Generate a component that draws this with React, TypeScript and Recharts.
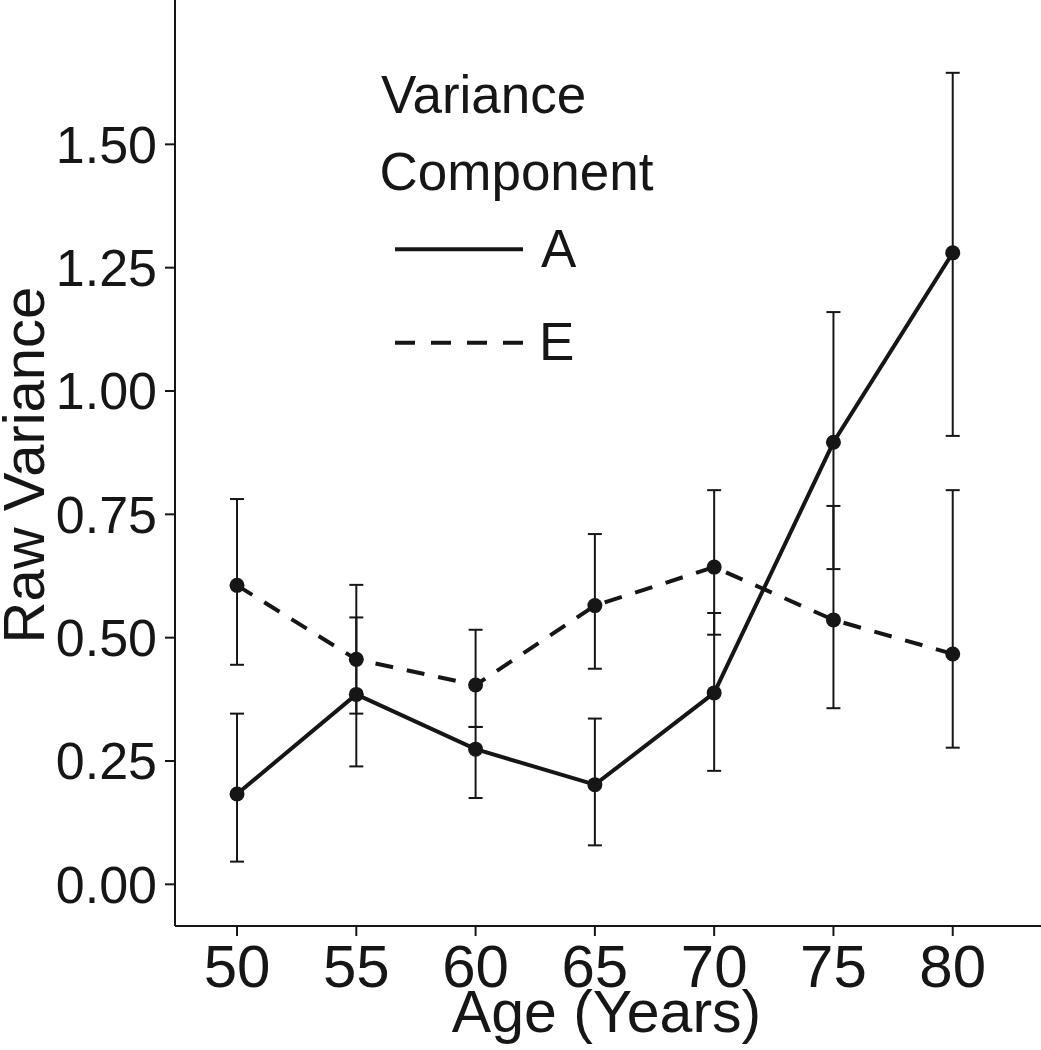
import React from 'react';
import { LineChart, Line, XAxis, YAxis, ErrorBar, Legend } from 'recharts';

const ages = [50, 55, 60, 65, 70, 75, 80];
const compA = [0.183, 0.385, 0.274, 0.202, 0.388, 0.896, 1.28];
const compALow = [0.046, 0.239, 0.175, 0.079, 0.23, 0.639, 0.909];
const compAHigh = [0.346, 0.541, 0.319, 0.336, 0.55, 1.16, 1.645];
const compE = [0.606, 0.456, 0.404, 0.565, 0.643, 0.536, 0.467];
const compELow = [0.445, 0.346, 0.319, 0.437, 0.506, 0.357, 0.277];
const compEHigh = [0.781, 0.607, 0.516, 0.71, 0.799, 0.767, 0.799];
const xTicks = [50, 55, 60, 65, 70, 75, 80];
const yTicks = [0, 0.25, 0.5, 0.75, 1.0, 1.25, 1.5];

const data = ages.map((age, i) => ({
  age,
  A: compA[i],
  E: compE[i],
  errA: [compA[i] - compALow[i], compAHigh[i] - compA[i]],
  errE: [compE[i] - compELow[i], compEHigh[i] - compE[i]],
}));

const FONT = '"Liberation Sans", Arial, Helvetica, sans-serif';
const INK = '#161616';

const LegendBox = () => (
  <svg width={320} height={330} style={{ display: 'block' }}>
    <text x={11} y={53.3} fontSize={53} fontFamily={FONT} fill={INK}>Variance</text>
    <text x={9.5} y={130} fontSize={53} fontFamily={FONT} fill={INK}>Component</text>
    <line x1={25} x2={153} y1={189.3} y2={189.3} stroke={INK} strokeWidth={4} />
    <text x={171} y={207.3} fontSize={53} fontFamily={FONT} fill={INK}>A</text>
    <line x1={25} x2={153} y1={282.7} y2={282.7} stroke={INK} strokeWidth={4} strokeDasharray="20 16" />
    <text x={169} y={300} fontSize={53} fontFamily={FONT} fill={INK}>E</text>
  </svg>
);

const XTitle = (props: any) => {
  const vb = props.viewBox || { x: 175, y: 926, width: 866, height: 124 };
  return (
    <text x={vb.x + vb.width / 2 - 1.5} y={vb.y + 105.7} textAnchor="middle" fontSize={59} fontFamily={FONT} fill={INK}>
      Age (Years)
    </text>
  );
};

const YTitle = () => {
  const cy = 465;
  return (
    <text x={44} y={cy} transform={`rotate(-90, 44, ${cy})`} textAnchor="middle" fontSize={58} fontFamily={FONT} fill={INK}>
      Raw Variance
    </text>
  );
};

export default function App() {
  return (
    <div style={{ position: 'absolute', left: 0, top: 0, width: 1041, height: 1050, background: '#fff' }}>
      <LineChart width={1041} height={1050} data={data} margin={{ top: 0, right: 0, bottom: 0, left: 0 }}>
        <XAxis
          type="number"
          dataKey="age"
          domain={[47.4, 83.7]}
          allowDataOverflow
          ticks={xTicks}
          height={124}
          tickSize={10}
          tickMargin={8}
          stroke={INK}
          strokeWidth={2}
          tick={{ fontSize: 60, fontFamily: FONT, fill: INK }}
          tickLine={{ stroke: INK, strokeWidth: 2 }}
          axisLine={{ stroke: INK, strokeWidth: 2 }}
          label={<XTitle />}
        />
        <YAxis
          type="number"
          domain={[-0.0845, 1.7926]}
          allowDataOverflow
          ticks={yTicks}
          width={175}
          tickSize={10}
          tickMargin={8}
          tickFormatter={(v: number) => v.toFixed(2)}
          tick={{ fontSize: 52, fontFamily: FONT, fill: INK }}
          tickLine={{ stroke: INK, strokeWidth: 2 }}
          axisLine={{ stroke: INK, strokeWidth: 2 }}
          label={<YTitle />}
        />
        <Legend
          layout="vertical"
          align="center"
          verticalAlign="middle"
          content={() => <LegendBox />}
          wrapperStyle={{ position: 'absolute', left: 370, top: 60, width: 320, height: 330 }}
        />
        <Line
          type="linear"
          dataKey="E"
          stroke={INK}
          strokeWidth={4}
          strokeDasharray="18 14"
          dot={{ r: 7.5, fill: INK, stroke: 'none', strokeDasharray: '' }}
          isAnimationActive={false}
        >
          <ErrorBar dataKey="errE" width={7} strokeWidth={2} stroke={INK} direction="y" />
        </Line>
        <Line
          type="linear"
          dataKey="A"
          stroke={INK}
          strokeWidth={4}
          dot={{ r: 7.5, fill: INK, stroke: 'none' }}
          isAnimationActive={false}
        >
          <ErrorBar dataKey="errA" width={7} strokeWidth={2} stroke={INK} direction="y" />
        </Line>
      </LineChart>
    </div>
  );
}
